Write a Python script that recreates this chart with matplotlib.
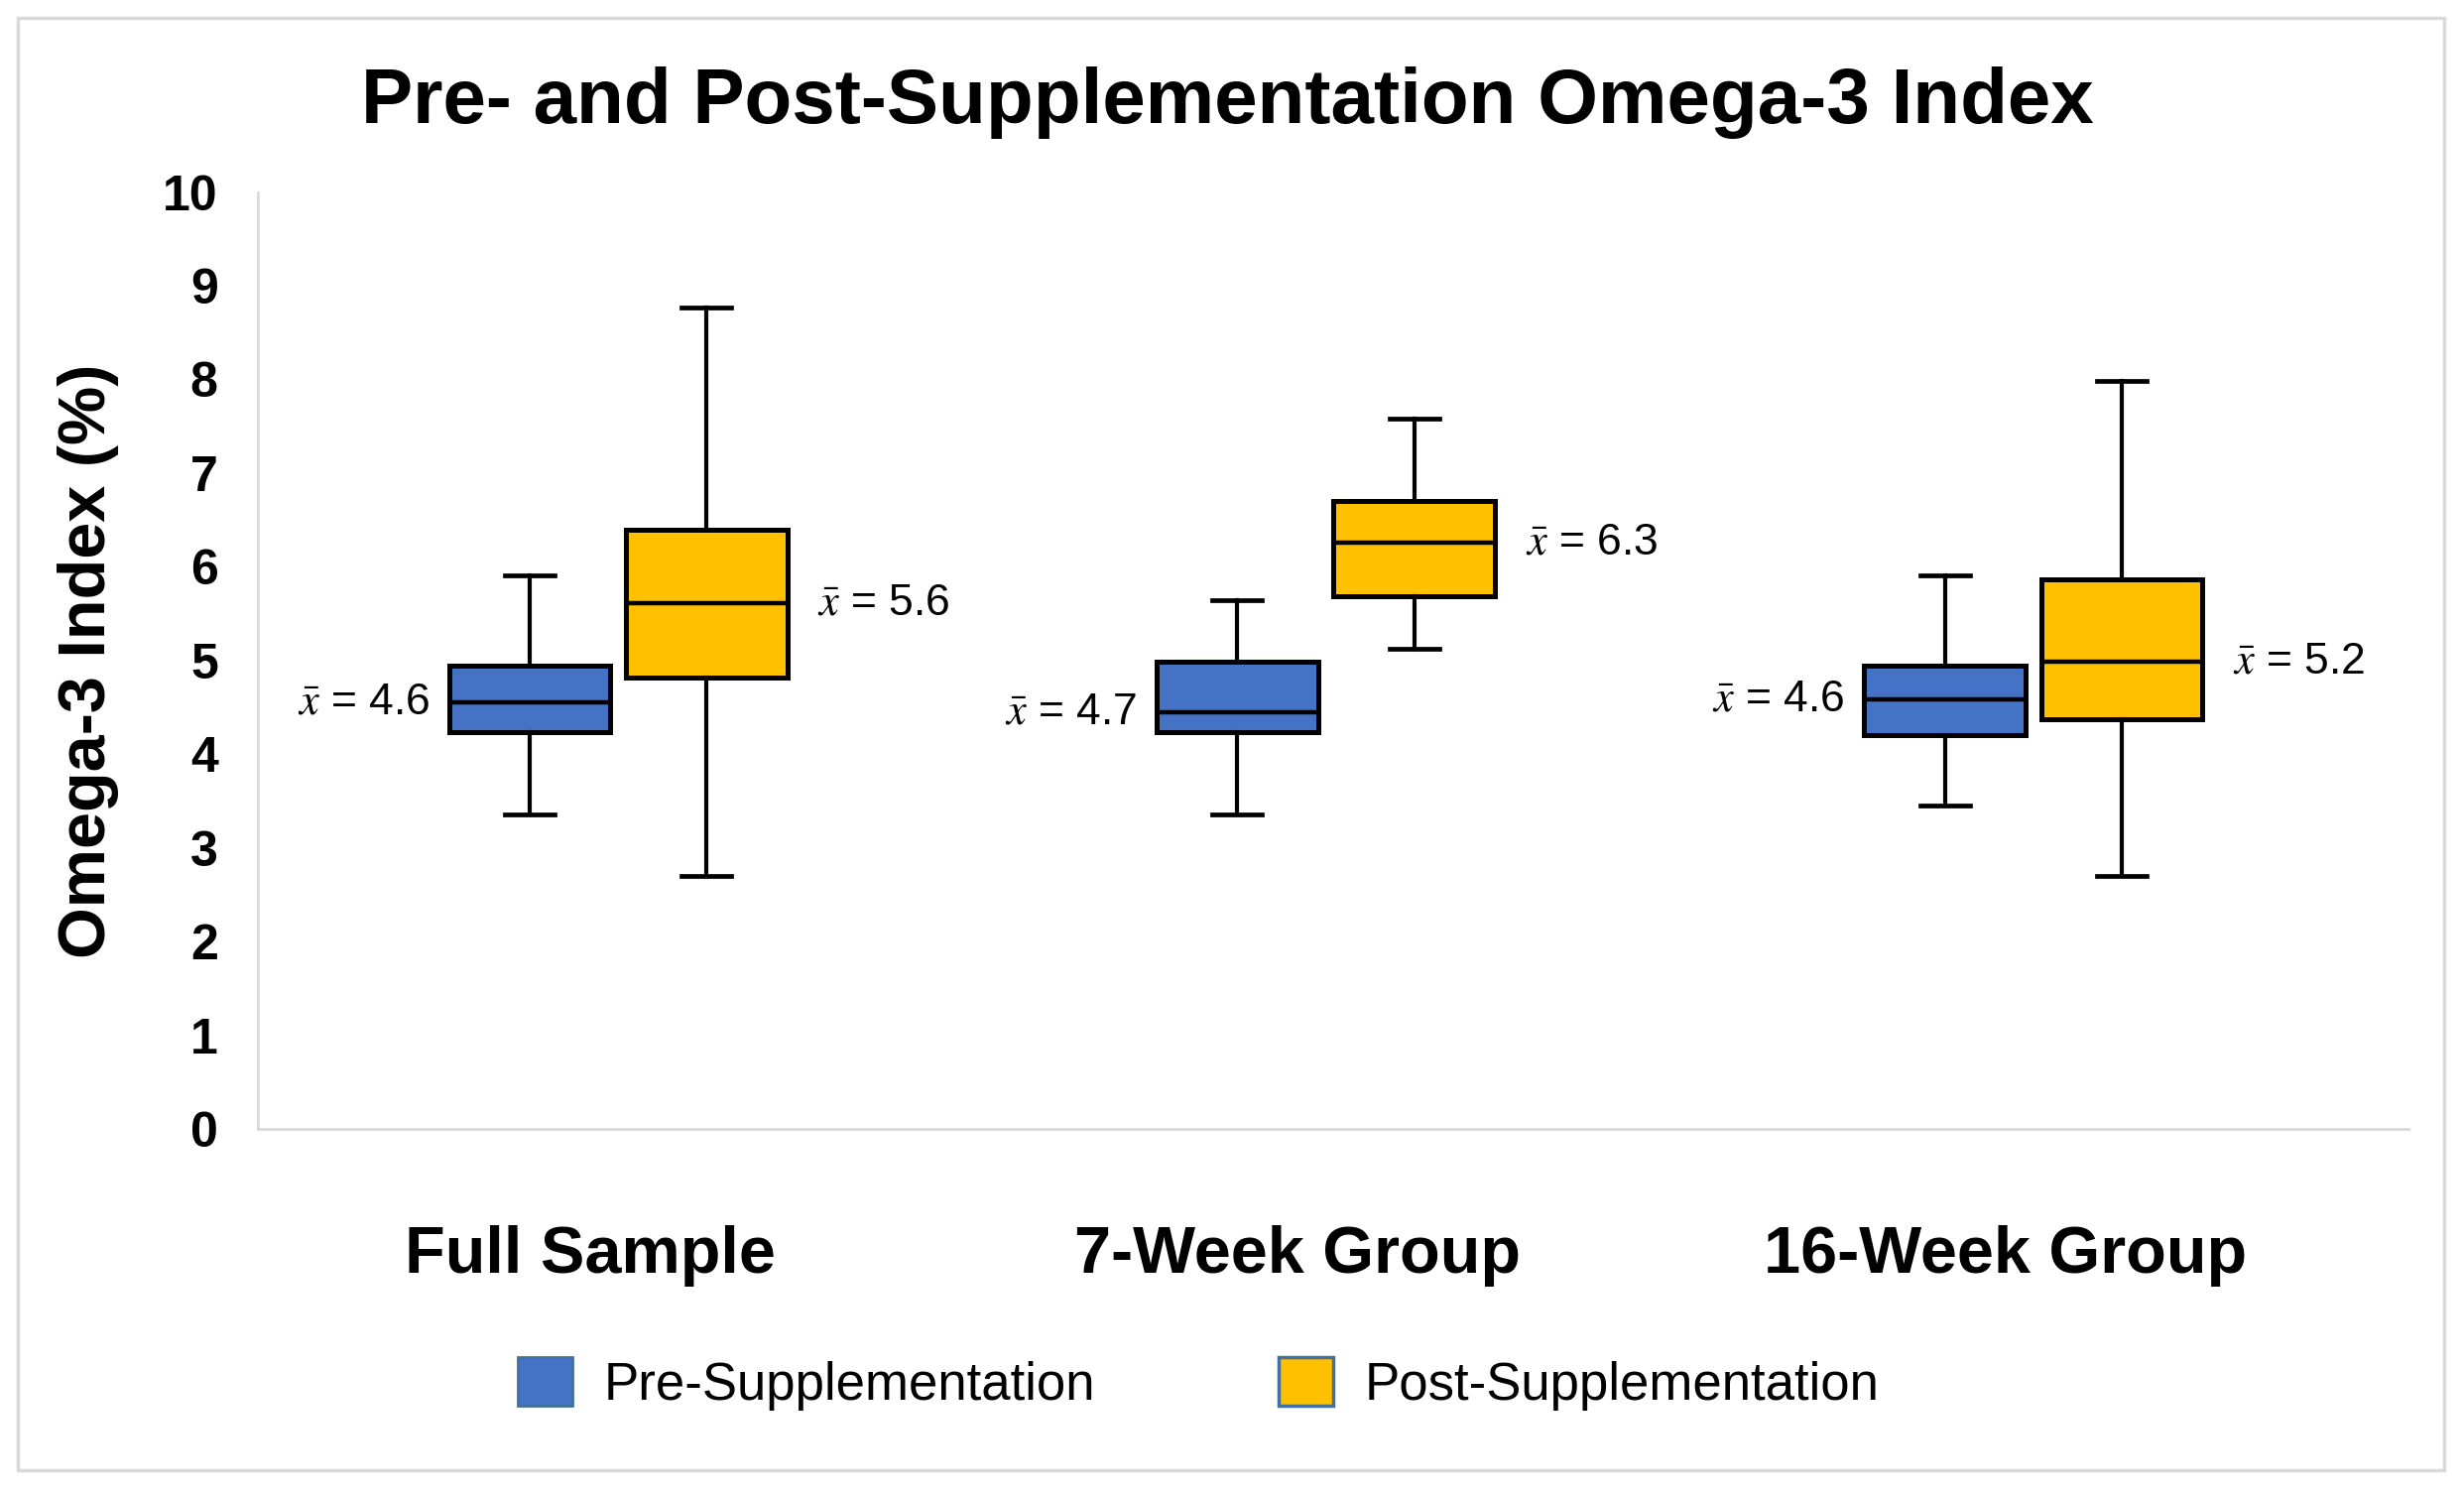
"""Pre- and post-supplementation Omega-3 index box plots."""

import matplotlib
matplotlib.use('Agg')
import matplotlib.pyplot as plt
from matplotlib.patches import Patch, Rectangle

plt.rcParams['font.family'] = ['Liberation Sans', 'DejaVu Sans']
plt.rcParams['mathtext.fontset'] = 'stix'

# data
groups = ['Full Sample', '7-Week Group', '16-Week Group']
series = ['Pre-Supplementation', 'Post-Supplementation']

pre_whislo = [3.36, 3.36, 3.45]
pre_q1 = [4.24, 4.23, 4.20]
pre_med = [4.55, 4.45, 4.58]
pre_q3 = [4.94, 4.99, 4.94]
pre_whishi = [5.91, 5.64, 5.91]
pre_mean = [4.6, 4.7, 4.6]

post_whislo = [2.70, 5.12, 2.70]
post_q1 = [4.82, 5.69, 4.37]
post_med = [5.61, 6.26, 4.99]
post_q3 = [6.39, 6.70, 5.87]
post_whishi = [8.77, 7.58, 7.98]
post_mean = [5.6, 6.3, 5.2]

yticks = list(range(0, 11))

blue = '#4472C4'
gold = '#FFC000'
grey = '#D9D9D9'

W, H = 2484, 1505
fig = plt.figure(figsize=(W / 100, H / 100), dpi=100)
ax = fig.add_axes([260 / W, 1 - 1138 / H, (2428 - 260) / W, (1138 - 193.5) / H])


def make_stats(lo, q1, med, q3, hi):
    return [dict(whislo=a, q1=b, med=c, q3=d, whishi=e, fliers=[])
            for a, b, c, d, e in zip(lo, q1, med, q3, hi)]


offset = 0.125
width = 0.228
pre_pos = [i - offset for i in range(len(groups))]
post_pos = [i + offset for i in range(len(groups))]

common = dict(widths=width, patch_artist=True, showfliers=False, capwidths=0.07,
              medianprops=dict(color='black', linewidth=3.2),
              whiskerprops=dict(color='black', linewidth=3.0),
              capprops=dict(color='black', linewidth=3.4))

ax.bxp(make_stats(pre_whislo, pre_q1, pre_med, pre_q3, pre_whishi),
       positions=pre_pos,
       boxprops=dict(facecolor=blue, edgecolor='black', linewidth=3.6), **common)
ax.bxp(make_stats(post_whislo, post_q1, post_med, post_q3, post_whishi),
       positions=post_pos,
       boxprops=dict(facecolor=gold, edgecolor='black', linewidth=3.6), **common)

# mean labels beside the boxes
for p, m, v in zip(pre_pos, pre_med, pre_mean):
    ax.annotate(r'$\bar{x}$ = ' + f'{v}', xy=(p - width / 2, m), xytext=(-14, 0),
                textcoords='offset points', ha='right', va='center', fontsize=32)
for p, m, v in zip(post_pos, post_med, post_mean):
    ax.annotate(r'$\bar{x}$ = ' + f'{v}', xy=(p + width / 2, m), xytext=(22, 0),
                textcoords='offset points', ha='left', va='center', fontsize=32)

ax.set_xlim(-0.509, 2.53)
ax.set_ylim(0, 10)
ax.set_xticks([])
ax.set_yticks(yticks)
ax.set_yticklabels([str(t) for t in yticks], fontweight='bold')
ax.tick_params(axis='y', length=0, pad=29, labelsize=36)

for s in ['top', 'right']:
    ax.spines[s].set_visible(False)
for s in ['left', 'bottom']:
    ax.spines[s].set_color(grey)
    ax.spines[s].set_linewidth(2)

# category names under the axis
for i, g in enumerate(groups):
    ax.text(i - 0.04, -0.1535, g, transform=ax.get_xaxis_transform(),
            ha='center', va='baseline', fontsize=48, fontweight='bold')

fig.text(1237 / W, 1 - 124 / H, 'Pre- and Post-Supplementation Omega-3 Index',
         ha='center', va='baseline', fontsize=56.3, fontweight='bold')
fig.text(89 / W, 1 - 666 / H, 'Omega-3 Index (%)', rotation=90,
         ha='center', va='center', fontsize=48, fontweight='bold')

handles = [Patch(facecolor=blue, edgecolor='#41719C', linewidth=2),
           Patch(facecolor=gold, edgecolor='#41719C', linewidth=2.5)]
fig.legend(handles, series, loc='center', bbox_to_anchor=(1208 / W, 1 - 1395 / H),
           ncol=2, frameon=False, fontsize=38, handlelength=1.05, handleheight=1.05,
           handletextpad=0.59, columnspacing=3.5)

# light frame round the whole chart
fig.patches.append(Rectangle((18 / W, 1 - 1482 / H), (2464 - 18) / W, (1482 - 18) / H,
                             transform=fig.transFigure, fill=False,
                             edgecolor=grey, linewidth=2.5))

fig.savefig('out.png', dpi=100)
